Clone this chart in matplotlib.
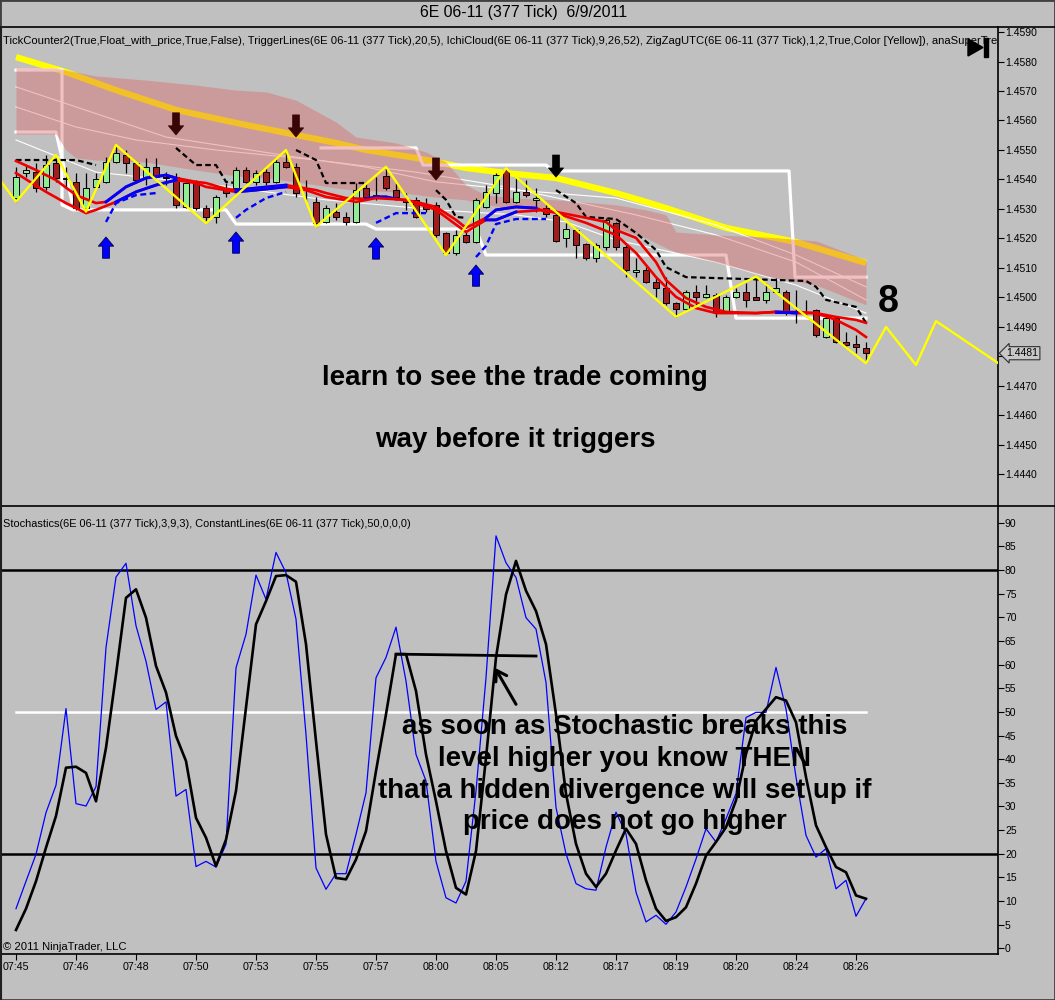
import numpy as np
import matplotlib
matplotlib.use('Agg')
import matplotlib.pyplot as plt
from matplotlib.lines import Line2D
from matplotlib.patches import Polygon, Rectangle

plt.rcParams['font.family'] = ['Liberation Sans', 'DejaVu Sans']

BG = '#c0c0c0'

# ---- 6E 06-11 (377 Tick) candles, bar 0 = 07:45 ----
opens = [1.45336, 1.45421, 1.45426, 1.45376, 1.45455, 1.45405, 1.45393, 1.45302, 1.45376, 1.45393,
         1.45460, 1.45483, 1.45455, 1.45409, 1.45443, 1.45408, 1.45409, 1.45308, 1.45387, 1.45302,
         1.45274, 1.45368, 1.45370, 1.45432, 1.45393, 1.45426, 1.45393, 1.45460, 1.45443, 1.45371,
         1.45325, 1.45257, 1.45291, 1.45272, 1.45257, 1.45370, 1.45337, 1.45412, 1.45364, 1.45331,
         1.45331, 1.45314, 1.45314, 1.45218, 1.45150, 1.45212, 1.45189, 1.45308, 1.45353, 1.45432,
         1.45325, 1.45359, 1.45331, 1.45302, 1.45280, 1.45201, 1.45229, 1.45181, 1.45133, 1.45172,
         1.45252, 1.45172, 1.45086, 1.45093, 1.45054, 1.45031, 1.44982, 1.44960, 1.45020, 1.45002,
         1.45008, 1.44952, 1.45003, 1.45020, 1.45001, 1.44992, 1.45020, 1.45020, 1.44951, 1.44951,
         1.44958, 1.44867, 1.44929, 1.44850, 1.44842, 1.44830]
highs = [1.45443, 1.45449, 1.45455, 1.45483, 1.45483, 1.45443, 1.45421, 1.45421, 1.45421, 1.45477,
         1.45517, 1.45500, 1.45460, 1.45472, 1.45472, 1.45426, 1.45421, 1.45393, 1.45398, 1.45314,
         1.45347, 1.45387, 1.45443, 1.45443, 1.45432, 1.45443, 1.45472, 1.45500, 1.45455, 1.45398,
         1.45342, 1.45314, 1.45319, 1.45291, 1.45387, 1.45393, 1.45409, 1.45443, 1.45387, 1.45353,
         1.45342, 1.45336, 1.45325, 1.45223, 1.45229, 1.45229, 1.45336, 1.45381, 1.45421, 1.45438,
         1.45404, 1.45398, 1.45370, 1.45314, 1.45297, 1.45252, 1.45235, 1.45184, 1.45184, 1.45268,
         1.45257, 1.45178, 1.45133, 1.45104, 1.45071, 1.45071, 1.44986, 1.45025, 1.45042, 1.45042,
         1.45014, 1.45008, 1.45031, 1.45048, 1.45071, 1.45048, 1.45065, 1.45025, 1.45025, 1.44992,
         1.44960, 1.44935, 1.44935, 1.44884, 1.44873, 1.44850]
lows = [1.45325, 1.45409, 1.45359, 1.45364, 1.45393, 1.45376, 1.45297, 1.45291, 1.45370, 1.45387,
        1.45455, 1.45421, 1.45387, 1.45381, 1.45404, 1.45381, 1.45302, 1.45302, 1.45297, 1.45257,
        1.45252, 1.45342, 1.45364, 1.45387, 1.45381, 1.45381, 1.45387, 1.45438, 1.45342, 1.45325,
        1.45240, 1.45252, 1.45263, 1.45246, 1.45252, 1.45331, 1.45331, 1.45364, 1.45336, 1.45297,
        1.45268, 1.45291, 1.45206, 1.45144, 1.45144, 1.45184, 1.45184, 1.45302, 1.45319, 1.45319,
        1.45319, 1.45342, 1.45291, 1.45274, 1.45189, 1.45172, 1.45133, 1.45127, 1.45121, 1.45161,
        1.45161, 1.45071, 1.45071, 1.45048, 1.45003, 1.44975, 1.44935, 1.44958, 1.44969, 1.44997,
        1.44935, 1.44946, 1.44997, 1.44969, 1.44992, 1.44980, 1.45014, 1.44941, 1.44913, 1.44935,
        1.44867, 1.44862, 1.44845, 1.44828, 1.44811, 1.44777]
closes = [1.45409, 1.45432, 1.45370, 1.45449, 1.45404, 1.45403, 1.45302, 1.45370, 1.45401, 1.45460,
          1.45489, 1.45455, 1.45398, 1.45443, 1.45409, 1.45405, 1.45314, 1.45387, 1.45302, 1.45274,
          1.45342, 1.45354, 1.45432, 1.45393, 1.45421, 1.45393, 1.45460, 1.45443, 1.45353, 1.45368,
          1.45252, 1.45302, 1.45274, 1.45257, 1.45364, 1.45342, 1.45347, 1.45370, 1.45342, 1.45325,
          1.45274, 1.45300, 1.45212, 1.45150, 1.45212, 1.45189, 1.45331, 1.45359, 1.45415, 1.45325,
          1.45359, 1.45347, 1.45337, 1.45283, 1.45192, 1.45232, 1.45178, 1.45133, 1.45178, 1.45263,
          1.45172, 1.45093, 1.45093, 1.45054, 1.45031, 1.44980, 1.44960, 1.45020, 1.45003, 1.45012,
          1.44952, 1.45003, 1.45020, 1.44992, 1.44992, 1.45020, 1.45031, 1.44946, 1.44947, 1.44949,
          1.44873, 1.44929, 1.44850, 1.44839, 1.44831, 1.44811]

time_labels = ['07:45', '07:46', '07:48', '07:50', '07:53', '07:55', '07:57', '08:00',
               '08:05', '08:12', '08:17', '08:19', '08:20', '08:24', '08:26']

# ---- indicators ----
gold_bars = [0, 5, 10, 16, 22, 28, 32, 35, 40, 45, 49, 54, 60, 63, 65, 71, 78, 85]
gold_line = [1.45815, 1.45764, 1.45703, 1.45636, 1.45592, 1.45551, 1.45524, 1.45500, 1.45473,
             1.45439, 1.45422, 1.45405, 1.45354, 1.45324, 1.45303, 1.45236, 1.45188, 1.45117]

cloud_bars = [0, 4, 5, 6, 8, 13, 18, 22, 25, 28, 32, 34, 38, 41, 43, 45, 47, 50, 54, 58, 60, 63,
              65, 66, 70, 75, 80, 85]
cloud_top = [1.45778, 1.45778, 1.45771, 1.45764, 1.45751, 1.45737, 1.45720, 1.45703, 1.45697,
             1.45669, 1.45595, 1.45544, 1.45524, 1.45493, 1.45459, 1.45381, 1.45347, 1.45337,
             1.45331, 1.45320, 1.45314, 1.45297, 1.45280, 1.45222, 1.45212, 1.45205, 1.45192,
             1.45127]
cloud_bot = [1.45554, 1.45554, 1.45500, 1.45473, 1.45466, 1.45459, 1.45432, 1.45412, 1.45405,
             1.45392, 1.45371, 1.45364, 1.45358, 1.45344, 1.45337, 1.45331, 1.45314, 1.45303,
             1.45290, 1.45263, 1.45236, 1.45202, 1.45168, 1.45154, 1.45120, 1.45073, 1.45042,
             1.44975]

thin1_bars = [0, 15, 28, 35, 42, 50, 60, 70, 78, 85]
thin1 = [1.45714, 1.45544, 1.45476, 1.45442, 1.45392, 1.45364, 1.45337, 1.45246, 1.45144, 1.45036]
thin2_bars = [0, 6, 12, 20, 30, 40, 48, 55, 62, 70, 78, 85]
thin2 = [1.45646, 1.45578, 1.45534, 1.45500, 1.45466, 1.45425, 1.45381, 1.45331, 1.45280,
         1.45212, 1.45120, 1.44992]
thin3_bars = [0, 8, 20, 31, 42, 50, 55, 60, 70, 78, 85]
thin3 = [1.45534, 1.45425, 1.45381, 1.45331, 1.45297, 1.45280, 1.45256, 1.45195, 1.45120,
         1.45042, 1.44947]

sup_bars = [0, 4.6, 4.6, 5.7, 21, 22, 35, 36, 46, 47, 71, 72, 85]
sup_line = [1.45771, 1.45771, 1.45314, 1.45297, 1.45297, 1.45249, 1.45249, 1.45232, 1.45232,
            1.45144, 1.45144, 1.44930, 1.44930]
early_bars = [0, 4, 5.6]
early_line = [1.45561, 1.45561, 1.45324]
res_bars = [30.5, 40, 40.7, 53, 53.7, 77.3, 77.9, 85]
res_line = [1.45507, 1.45507, 1.45449, 1.45449, 1.45429, 1.45429, 1.45069, 1.45069]

dash_segments = [
    ([0, 6, 8], [1.45466, 1.45466, 1.45449]),
    ([16, 18, 20, 21, 22], [1.45507, 1.45449, 1.45449, 1.45392, 1.45388]),
    ([28, 30, 31, 35], [1.45500, 1.45466, 1.45388, 1.45388]),
    ([42, 43, 44, 45], [1.45364, 1.45331, 1.45273, 1.45270]),
    ([54, 56, 57, 60, 62, 64, 65, 67, 79, 80, 81, 84, 85],
     [1.45364, 1.45320, 1.45273, 1.45266, 1.45219, 1.45161, 1.45103, 1.45069, 1.45056,
      1.45036, 1.44992, 1.44968, 1.44914]),
]

trig_a_bars = [0, 2, 4, 6, 8, 9, 11, 13, 15, 16, 18, 19, 21, 22, 24, 27, 28, 30, 31, 33, 35, 36,
               37, 38, 40, 42, 44, 45, 46, 47, 48, 50, 52, 53, 54, 57, 59, 60, 62, 64, 65, 67,
               69, 71, 74, 76, 78, 80, 82, 84, 85]
trig_a = [1.45463, 1.45432, 1.45398, 1.45347, 1.45320, 1.45324, 1.45375, 1.45405, 1.45415,
          1.45405, 1.45392, 1.45388, 1.45368, 1.45364, 1.45371, 1.45381, 1.45375, 1.45364,
          1.45354, 1.45337, 1.45334, 1.45341, 1.45341, 1.45334, 1.45324, 1.45307, 1.45263,
          1.45236, 1.45253, 1.45270, 1.45297, 1.45307, 1.45303, 1.45290, 1.45290, 1.45270,
          1.45256, 1.45229, 1.45202, 1.45120, 1.45059, 1.44998, 1.44968, 1.44951, 1.44947,
          1.44951, 1.44947, 1.44947, 1.44934, 1.44924, 1.44914]
trig_b_bars = [0, 3, 5, 7, 8, 10, 12, 14, 16, 18, 19, 22, 24, 27, 29, 31, 34, 36, 39, 42, 45, 47,
               48, 50, 53, 54, 57, 60, 62, 64, 66, 68, 70, 74, 76, 78, 80, 82, 84, 85]
trig_b = [1.45422, 1.45358, 1.45320, 1.45286, 1.45297, 1.45324, 1.45358, 1.45381, 1.45398,
          1.45388, 1.45375, 1.45358, 1.45364, 1.45375, 1.45364, 1.45341, 1.45324, 1.45337,
          1.45331, 1.45297, 1.45222, 1.45263, 1.45263, 1.45290, 1.45297, 1.45286, 1.45253,
          1.45212, 1.45151, 1.45069, 1.45002, 1.44964, 1.44947, 1.44947, 1.44951, 1.44951,
          1.44947, 1.44924, 1.44890, 1.44866]
blue_spans = [(9, 16), (22, 27), (35, 38), (47, 52), (76, 78)]

blue_dash_segments = [
    ([9, 10, 12, 14], [1.45256, 1.45320, 1.45347, 1.45354]),
    ([22, 23, 25, 27], [1.45270, 1.45297, 1.45337, 1.45358]),
    ([36, 38, 41], [1.45253, 1.45286, 1.45286]),
    ([46, 47, 48, 50, 53], [1.45137, 1.45175, 1.45249, 1.45266, 1.45266]),
]

zz_bars = [-1.6, 0, 4, 7, 10, 19, 27, 30, 37, 43, 49, 66, 74, 85, 87, 90, 92, 98.2]
zz_line = [1.45398, 1.45325, 1.45483, 1.45291, 1.45517, 1.45252, 1.45500, 1.45240, 1.45443,
           1.45144, 1.45438, 1.44935, 1.45071, 1.44777, 1.44900, 1.44771, 1.44920, 1.44778]

down_arrow_bars = [16, 28, 42, 54]
down_arrow_tips = [1.45551, 1.45544, 1.45398, 1.45408]
down_arrow_colors = ['#3a0505', '#3a0505', '#3a0505', '#000000']
up_arrow_bars = [9, 22, 36, 46]
up_arrow_tips = [1.45205, 1.45222, 1.45202, 1.45110]

# ---- Stochastics(3,9,3) ----
stoch_k = [8.4, 14.2, 19.9, 28.7, 34.5, 50.7, 30.6, 30.1, 34.2, 63.6,
           78.5, 81.4, 68.2, 60.7, 50.5, 52.1, 32.2, 33.6, 17.3, 18.4,
           17.2, 22.0, 59.3, 66.4, 78.9, 73.8, 83.7, 79.4, 69.6, 45.2,
           17.0, 12.5, 15.8, 15.8, 24.1, 32.9, 57.2, 61.5, 67.9, 56.5,
           41.0, 35.4, 18.4, 10.7, 9.6, 14.2, 33.3, 57.2, 87.2, 81.5,
           78.4, 69.9, 67.5, 56.2, 29.8, 20.0, 13.7, 12.6, 12.3, 21.4,
           28.8, 24.2, 11.9, 5.6, 7.0, 5.1, 7.7, 13.0, 18.9, 25.3,
           22.5, 27.4, 32.7, 48.8, 49.9, 49.9, 59.4, 50.6, 36.2, 23.9,
           19.3, 21.1, 12.6, 14.4, 6.8, 10.5]
stoch_d = [3.9, 8.4, 14.2, 21.3, 28.0, 38.2, 38.4, 37.1, 31.1, 42.4,
           57.9, 74.1, 75.9, 69.9, 59.7, 54.1, 44.9, 39.6, 27.6, 23.4,
           17.4, 23.0, 33.3, 50.9, 68.5, 73.4, 78.7, 78.9, 77.5, 64.3,
           43.8, 24.1, 14.9, 14.6, 18.8, 24.8, 37.5, 49.5, 62.2, 62.2,
           54.4, 41.0, 31.1, 20.6, 12.8, 11.4, 20.6, 40.3, 61.5, 74.8,
           81.9, 75.6, 71.3, 64.3, 49.5, 32.7, 22.1, 15.8, 13.0, 15.8,
           20.7, 25.3, 22.1, 14.4, 8.4, 5.8, 6.6, 8.7, 13.7, 19.6,
           22.5, 25.6, 31.3, 41.1, 48.1, 50.6, 53.1, 52.4, 47.8, 36.2,
           26.0, 21.4, 17.2, 16.1, 11.2, 10.5]

W, H = 1055.0, 1000.0


def fx(px):
    return px / W


def fy(py):
    return 1 - py / H


fig = plt.figure(figsize=(10.55, 10.0), dpi=100, facecolor=BG)
ax1 = fig.add_axes([fx(1), fy(506), fx(998) - fx(1), fy(27) - fy(506)], facecolor=BG)
ax2 = fig.add_axes([fx(1), fy(954), fx(998) - fx(1), fy(507) - fy(954)], facecolor=BG)

n = len(opens)
xb = np.arange(n)
xlim = (-1.5, 98.2)

# ---------- price panel ----------
ax1.set_xlim(*xlim)
ax1.set_ylim(1.44293, 1.45917)

# lines drawn under the cloud (get tinted by it)
ax1.plot(gold_bars, gold_line, color='#ffff00', lw=4.5, zorder=1, solid_capstyle='butt')
for bx, by in [(thin1_bars, thin1), (thin2_bars, thin2), (thin3_bars, thin3)]:
    ax1.plot(bx, by, color='white', lw=0.8, zorder=1)
ax1.plot(sup_bars, sup_line, color='white', lw=2.3, zorder=1)
ax1.plot(early_bars, early_line, color='white', lw=2.3, zorder=1)
ax1.plot(res_bars, res_line, color='white', lw=2.3, zorder=1)

ax1.fill_between(cloud_bars, cloud_bot, cloud_top, color='#dc6464', alpha=0.4, lw=0, zorder=2)

for bx, by in dash_segments:
    ax1.plot(bx, by, color='black', lw=1.6, ls=(0, (2.5, 1.5)), zorder=4)

# candles
o = np.array(opens)
c = np.array(closes)
up = c >= o
ax1.vlines(xb, lows, highs, color='black', lw=0.9, zorder=4)
body_bot = np.minimum(o, c)
body_h = np.maximum(np.abs(c - o), 0.00003)
ax1.bar(xb, body_h, bottom=body_bot, width=0.62,
        color=np.where(up, '#90ee90', '#a01e1e'), edgecolor='black', linewidth=0.7, zorder=5)

# trigger lines
for bx, by in [(trig_a_bars, trig_a), (trig_b_bars, trig_b)]:
    bx = np.array(bx)
    by = np.array(by)
    ax1.plot(bx, by, color='#ee0000', lw=1.9, zorder=6)
    for lo, hi in blue_spans:
        m = (bx >= lo) & (bx <= hi)
        ax1.plot(bx[m], by[m], color='#0000ff', lw=2.1, zorder=6)
for bx, by in blue_dash_segments:
    ax1.plot(bx, by, color='#0000ff', lw=1.7, ls=(0, (2.5, 1.5)), zorder=6)

ax1.plot(zz_bars, zz_line, color='#ffff00', lw=1.7, zorder=7)

for b, tip, col in zip(down_arrow_bars, down_arrow_tips, down_arrow_colors):
    ax1.annotate('', xy=(b, tip), xytext=(b, tip + 0.00075),
                 arrowprops=dict(arrowstyle='simple,head_length=0.6,head_width=1.0,tail_width=0.45',
                                 fc=col, ec=col, lw=0.5, shrinkA=0, shrinkB=0, mutation_scale=11),
                 zorder=8)
for b, tip in zip(up_arrow_bars, up_arrow_tips):
    ax1.annotate('', xy=(b, tip), xytext=(b, tip - 0.00072),
                 arrowprops=dict(arrowstyle='simple,head_length=0.6,head_width=1.0,tail_width=0.45',
                                 fc='#0000ff', ec='#00004a', lw=0.6, shrinkA=0, shrinkB=0,
                                 mutation_scale=11),
                 zorder=8)

price_ticks = np.round(np.arange(1.4440, 1.45905, 0.001), 4)
last_close = closes[-1]
ax1.set_yticks(price_ticks)
# the last-price marker sits on top of the nearest label, as in the platform
ax1.set_yticklabels(['' if abs(v - last_close) < 0.0005 else f'{v:.4f}' for v in price_ticks])
ax1.yaxis.tick_right()
ax1.tick_params(axis='y', direction='out', length=4, width=0.8, labelsize=7.5, pad=1)
ax1.set_xticks([])
for s in ['top', 'bottom', 'left']:
    ax1.spines[s].set_visible(False)
ax1.spines['right'].set_linewidth(1.2)

ax1.annotate(f'{last_close:.4f}', xy=(1.0, last_close), xycoords=('axes fraction', 'data'),
             xytext=(6, 0), textcoords='offset points', ha='left', va='center', fontsize=7.5,
             bbox=dict(boxstyle='larrow,pad=0.15', fc='#c8c8c8', ec='#303030', lw=0.8),
             annotation_clip=False, zorder=9)

# indicator caption, shown truncated at the price scale like the platform does
ax1.text(0.002, 0.971,
         'TickCounter2(True,Float_with_price,True,False), TriggerLines(6E 06-11 (377 Tick),20,5), '
         'IchiCloud(6E 06-11 (377 Tick),9,26,52), ZigZagUTC(6E 06-11 (377 Tick),1,2,True,Color [Yellow]), '
         'anaSuperTre',
         transform=ax1.transAxes, fontsize=8.1, va='center', ha='left')

# ---------- stochastics panel ----------
ax2.set_xlim(*xlim)
ax2.set_ylim(-1.18, 93.3)
ax2.axhline(80, color='black', lw=1.8, zorder=2)
ax2.axhline(20, color='black', lw=1.8, zorder=2)
ax2.plot([0, n - 1], [50, 50], color='white', lw=1.8, zorder=2)
ax2.plot(xb, stoch_k, color='#0000ff', lw=0.9, zorder=3)
ax2.plot(xb, stoch_d, color='black', lw=1.9, zorder=4)

ax2.plot([38, 52], [62.2, 61.8], color='black', lw=2, zorder=5)
ax2.annotate('', xy=(47.9, 59.3), xytext=(50.0, 51.6),
             arrowprops=dict(arrowstyle='->,head_length=0.7,head_width=0.45', color='black',
                             lw=2.2, shrinkA=0, shrinkB=0), zorder=5)

ax2.set_yticks(range(0, 91, 5))
ax2.yaxis.tick_right()
tick_bars = list(range(0, 85, 6))
ax2.set_xticks(tick_bars)
ax2.set_xticklabels(time_labels)
ax2.tick_params(axis='y', direction='out', length=4, width=0.8, labelsize=7.5, pad=1)
ax2.tick_params(axis='x', direction='out', length=4, width=0.8, labelsize=7.7, pad=2)
for s in ['top', 'left']:
    ax2.spines[s].set_visible(False)
ax2.spines['right'].set_linewidth(1.2)
ax2.spines['bottom'].set_linewidth(1.2)

ax2.text(0.002, 0.962,
         'Stochastics(6E 06-11 (377 Tick),3,9,3), ConstantLines(6E 06-11 (377 Tick),50,0,0,0)',
         transform=ax2.transAxes, fontsize=7.9, va='center', ha='left')
ax2.text(0.002, 0.016, '\u00a9 2011 NinjaTrader, LLC', transform=ax2.transAxes,
         fontsize=8.1, va='center', ha='left')

# ---------- frame, separators, title, notes ----------
fig.add_artist(Line2D([0, 1], [fy(27), fy(27)], transform=fig.transFigure, color='black', lw=1.2))
fig.add_artist(Line2D([0, 1], [fy(506.5), fy(506.5)], transform=fig.transFigure,
                      color='black', lw=1.2))
fig.add_artist(Line2D([fx(0.8), fx(0.8)], [fy(27), fy(999)], transform=fig.transFigure,
                      color='#202020', lw=1.5))
fig.add_artist(Rectangle((0, 0), 1, 1, transform=fig.transFigure, fill=False,
                         ec='#404040', lw=2))

fig.add_artist(Polygon([(fx(968), fy(39)), (fx(968), fy(56)), (fx(983), fy(47.5))],
                       closed=True, transform=fig.transFigure, fc='black', ec='black'))
fig.add_artist(Rectangle((fx(984), fy(57)), fx(4), 19 / H, transform=fig.transFigure,
                         fc='black', ec='black'))

fig.text(fx(524), fy(17), '6E 06-11 (377 Tick)  6/9/2011', ha='center', va='baseline',
         fontsize=11.4)

bold = dict(ha='center', va='baseline', fontsize=20, fontweight='bold', color='black')
fig.text(fx(515), fy(385), 'learn to see the trade coming', **bold)
fig.text(fx(515), fy(447), 'way before it triggers', **bold)
fig.text(fx(888), fy(312), '8', ha='center', va='baseline', fontsize=27, fontweight='bold')

note = ['as soon as Stochastic breaks this',
        'level higher you know THEN',
        'that a hidden divergence will set up if',
        'price does not go higher']
for line, base in zip(note, [734, 766, 798, 829]):
    fig.text(fx(625), fy(base), line, **bold)

fig.savefig('out.png', dpi=100, facecolor=BG)
